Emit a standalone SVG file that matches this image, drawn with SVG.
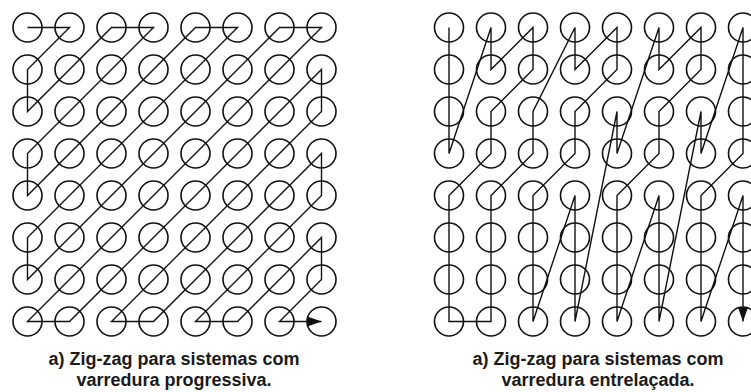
<svg xmlns="http://www.w3.org/2000/svg" width="751" height="392" viewBox="0 0 751 392">
<style>
.c{fill:none;stroke:#111;stroke-width:1.6}
.p{fill:none;stroke:#111;stroke-width:1.4;stroke-linejoin:miter}
.t{font-family:"Liberation Sans",Arial,sans-serif;font-size:18px;font-weight:bold;fill:#1a1a1a;text-anchor:middle}
</style>
<defs>
<marker id="ah" markerUnits="userSpaceOnUse" markerWidth="16" markerHeight="12" refX="15" refY="6" orient="auto">
<path d="M1,1 L15,6 L1,11 Z" fill="#111"/>
</marker>
<g id="row">
<circle class="c" cx="0" cy="0" r="14.5"/>
<circle class="c" cx="42" cy="0" r="14.5"/>
<circle class="c" cx="84" cy="0" r="14.5"/>
<circle class="c" cx="126" cy="0" r="14.5"/>
<circle class="c" cx="168" cy="0" r="14.5"/>
<circle class="c" cx="210" cy="0" r="14.5"/>
<circle class="c" cx="252" cy="0" r="14.5"/>
<circle class="c" cx="294" cy="0" r="14.5"/>
</g>
<g id="grid">
<use href="#row" y="0"/>
<use href="#row" y="42"/>
<use href="#row" y="84"/>
<use href="#row" y="126"/>
<use href="#row" y="168"/>
<use href="#row" y="210"/>
<use href="#row" y="252"/>
<use href="#row" y="294"/>
</g>
</defs>
<g id="grid-progressive">
<use href="#grid" x="27.5" y="27.5"/>
</g>
<g id="grid-interlaced">
<use href="#grid" x="449" y="27.5"/>
</g>
<g id="connectors">
<polyline class="p" marker-end="url(#ah)" points="27.5,27.5 69.5,27.5 27.5,69.5 27.5,111.5 111.5,27.5 153.5,27.5 27.5,153.5 27.5,195.5 195.5,27.5 237.5,27.5 27.5,237.5 27.5,279.5 279.5,27.5 321.5,27.5 27.5,321.5 69.5,321.5 321.5,69.5 321.5,111.5 111.5,321.5 153.5,321.5 321.5,153.5 321.5,195.5 195.5,321.5 237.5,321.5 321.5,237.5 321.5,279.5 279.5,321.5 321.5,321.5"/>
<polyline class="p" marker-end="url(#ah)" points="449,27.5 449,153.5 491,27.5 491,69.5 533,27.5 533,69.5 491,111.5 491,153.5 449,195.5 449,321.5 491,321.5 491,195.5 533,153.5 533,111.5 575,27.5 575,69.5 617,27.5 617,69.5 575,111.5 575,153.5 533,195.5 533,321.5 575,195.5 575,321.5 617,111.5 617,153.5 659,27.5 659,69.5 701,27.5 701,69.5 659,111.5 659,153.5 617,195.5 617,321.5 659,195.5 659,321.5 701,111.5 701,153.5 743,27.5 743,153.5 701,195.5 701,321.5 743,195.5 743,321.5"/>
</g>
<g id="caption-left">
<text class="t" x="174" y="365">a) Zig-zag para sistemas com</text>
<text class="t" x="174" y="386">varredura progressiva.</text>
</g>
<g id="caption-right">
<text class="t" x="598" y="365">a) Zig-zag para sistemas com</text>
<text class="t" x="598" y="386">varredura entrelaçada.</text>
</g>
</svg>
